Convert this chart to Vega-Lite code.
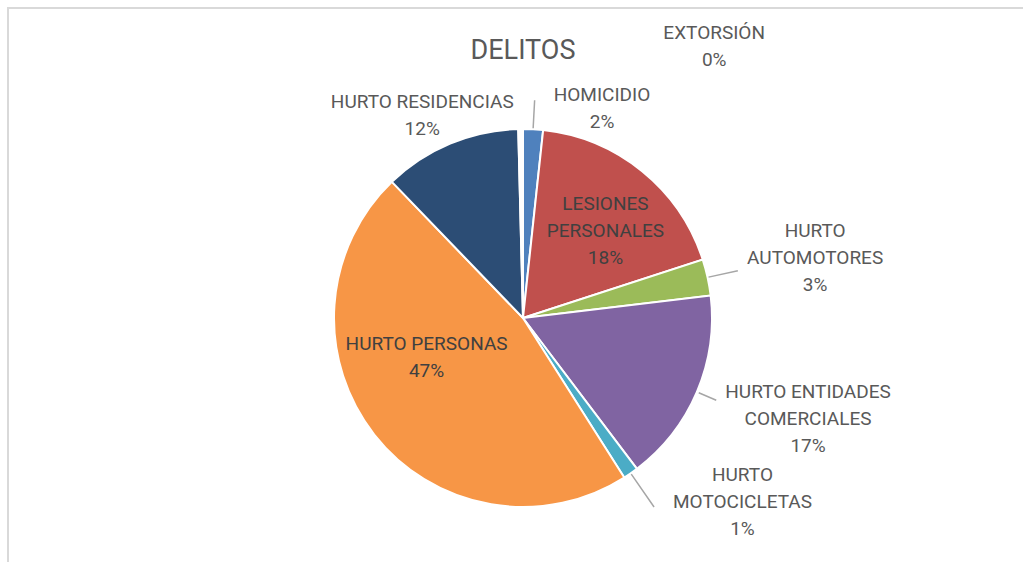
{
  "$schema": "https://vega.github.io/schema/vega-lite/v6.json",
  "autosize": {"type": "none"},
  "padding": {"left": 8, "top": 8, "right": 0, "bottom": 0},
  "width": 1030,
  "height": 620,
  "background": "white",
  "view": {"stroke": "#d9d9d9", "strokeWidth": 2, "fill": "white"},
  "config": {"view": {"stroke": "#d9d9d9", "strokeWidth": 2}},
  "title": {"text": "DELITOS", "font": "Roboto", "fontSize": 27, "fontWeight": "normal", "color": "#595959", "anchor": "middle", "frame": "group", "baseline": "alphabetic", "offset": -51, "dy": 27},
  "data": {"values": [
    {"cat": "HOMICIDIO", "value": 1.7, "label": "HOMICIDIO\n2%"},
    {"cat": "LESIONES PERSONALES", "value": 18.3, "label": "LESIONES\nPERSONALES\n18%"},
    {"cat": "HURTO AUTOMOTORES", "value": 3.1, "label": "HURTO\nAUTOMOTORES\n3%"},
    {"cat": "HURTO ENTIDADES COMERCIALES", "value": 16.6, "label": "HURTO ENTIDADES\nCOMERCIALES\n17%"},
    {"cat": "HURTO MOTOCICLETAS", "value": 1.3, "label": "HURTO\nMOTOCICLETAS\n1%"},
    {"cat": "HURTO PERSONAS", "value": 46.8, "label": "HURTO PERSONAS\n47%"},
    {"cat": "HURTO RESIDENCIAS", "value": 11.8, "label": "HURTO RESIDENCIAS\n12%"},
    {"cat": "EXTORSIÓN", "value": 0.4, "label": "EXTORSIÓN\n0%"}
  ]},
  "transform": [{"window": [{"op": "row_number", "as": "idx"}]}],
  "encoding": {
    "theta": {"field": "value", "type": "quantitative", "stack": true},
    "order": {"field": "idx", "type": "quantitative"},
    "detail": {"field": "cat", "type": "nominal"}
  },
  "layer": [
    {
      "mark": {"type": "arc", "radius": 189, "stroke": "#ffffff", "strokeWidth": 2},
      "encoding": {
        "color": {"field": "cat", "type": "nominal", "legend": null,
          "scale": {"domain": ["HOMICIDIO", "LESIONES PERSONALES", "HURTO AUTOMOTORES", "HURTO ENTIDADES COMERCIALES", "HURTO MOTOCICLETAS", "HURTO PERSONAS", "HURTO RESIDENCIAS", "EXTORSIÓN"],
                    "range": ["#4F81BD", "#C0504D", "#9BBB59", "#8064A2", "#4BACC6", "#F79646", "#2C4D75", "#ffffff"]}}
      }
    },
    {
      "mark": {"type": "arc", "radius": 218, "radius2": 190, "padAngle": 3.1, "fillOpacity": 0, "stroke": "#a6a6a6", "strokeWidth": 1.5},
      "encoding": {"strokeOpacity": {"condition": {"test": "datum.cat === 'HOMICIDIO'", "value": 1}, "value": 0}}
    },
    {
      "mark": {"type": "arc", "radius": 220, "radius2": 190, "padAngle": 3.1, "fillOpacity": 0, "stroke": "#a6a6a6", "strokeWidth": 1.5},
      "encoding": {"strokeOpacity": {"condition": {"test": "datum.cat === 'HURTO AUTOMOTORES'", "value": 1}, "value": 0}}
    },
    {
      "mark": {"type": "arc", "radius": 210, "radius2": 191, "padAngle": 3.1, "fillOpacity": 0, "stroke": "#a6a6a6", "strokeWidth": 1.5},
      "encoding": {"strokeOpacity": {"condition": {"test": "datum.cat === 'HURTO ENTIDADES COMERCIALES'", "value": 1}, "value": 0}}
    },
    {
      "mark": {"type": "arc", "radius": 230, "radius2": 190, "padAngle": 3.1, "fillOpacity": 0, "stroke": "#a6a6a6", "strokeWidth": 1.5},
      "encoding": {"strokeOpacity": {"condition": {"test": "datum.cat === 'HURTO MOTOCICLETAS'", "value": 1}, "value": 0}}
    },
    {
      "mark": {"type": "text", "radius": 115, "dx": 10, "dy": -25, "font": "Roboto", "fontSize": 19, "lineHeight": 27, "lineBreak": "\n", "color": "#404040", "align": "center", "baseline": "middle"},
      "encoding": {"text": {"condition": {"test": "datum.cat === 'LESIONES PERSONALES'", "field": "label"}, "value": ""}}
    },
    {
      "mark": {"type": "text", "radius": 115, "dx": -6, "dy": -45, "font": "Roboto", "fontSize": 19, "lineHeight": 27, "lineBreak": "\n", "color": "#404040", "align": "center", "baseline": "middle"},
      "encoding": {"text": {"condition": {"test": "datum.cat === 'HURTO PERSONAS'", "field": "label"}, "value": ""}}
    },
    {
      "mark": {"type": "text", "radius": 225, "dx": 67, "dy": 2, "font": "Roboto", "fontSize": 19, "lineHeight": 27, "lineBreak": "\n", "color": "#595959", "align": "center", "baseline": "middle"},
      "encoding": {"text": {"condition": {"test": "datum.cat === 'HOMICIDIO'", "field": "label"}, "value": ""}}
    },
    {
      "mark": {"type": "text", "radius": 225, "dx": 194, "dy": -60, "font": "Roboto", "fontSize": 19, "lineHeight": 27, "lineBreak": "\n", "color": "#595959", "align": "center", "baseline": "middle"},
      "encoding": {"text": {"condition": {"test": "datum.cat === 'EXTORSIÓN'", "field": "label"}, "value": ""}}
    },
    {
      "mark": {"type": "text", "radius": 250, "dx": 48, "dy": -33, "font": "Roboto", "fontSize": 19, "lineHeight": 27, "lineBreak": "\n", "color": "#595959", "align": "center", "baseline": "middle"},
      "encoding": {"text": {"condition": {"test": "datum.cat === 'HURTO AUTOMOTORES'", "field": "label"}, "value": ""}}
    },
    {
      "mark": {"type": "text", "radius": 250, "dx": 55, "dy": -24, "font": "Roboto", "fontSize": 19, "lineHeight": 27, "lineBreak": "\n", "color": "#595959", "align": "center", "baseline": "middle"},
      "encoding": {"text": {"condition": {"test": "datum.cat === 'HURTO ENTIDADES COMERCIALES'", "field": "label"}, "value": ""}}
    },
    {
      "mark": {"type": "text", "radius": 250, "dx": 77, "dy": -48, "font": "Roboto", "fontSize": 19, "lineHeight": 27, "lineBreak": "\n", "color": "#595959", "align": "center", "baseline": "middle"},
      "encoding": {"text": {"condition": {"test": "datum.cat === 'HURTO MOTOCICLETAS'", "field": "label"}, "value": ""}}
    },
    {
      "mark": {"type": "text", "radius": 225, "dx": -14, "dy": -8, "font": "Roboto", "fontSize": 19, "lineHeight": 27, "lineBreak": "\n", "color": "#595959", "align": "center", "baseline": "middle"},
      "encoding": {"text": {"condition": {"test": "datum.cat === 'HURTO RESIDENCIAS'", "field": "label"}, "value": ""}}
    }
  ]
}
